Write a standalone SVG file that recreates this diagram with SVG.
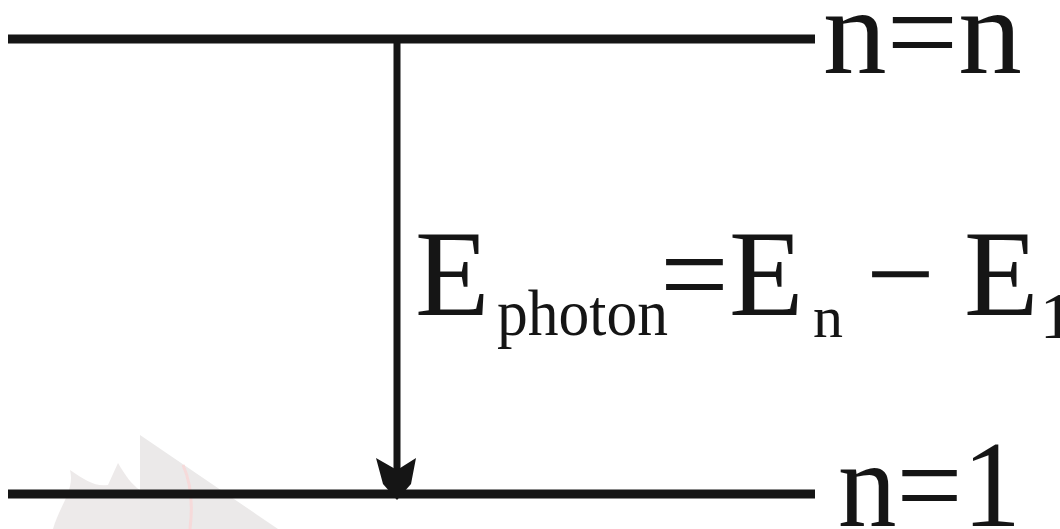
<svg xmlns="http://www.w3.org/2000/svg" width="1060" height="529" viewBox="0 0 1060 529">
<style>
.lvl{stroke:#151515;stroke-width:9;fill:none}
.t{font-family:"Liberation Serif","Times New Roman",serif;fill:#151515}
.big{font-size:122px}
.sub{font-size:66px}
</style>
<rect width="1060" height="529" fill="#ffffff"/>
<g id="watermark" opacity="0.9">
<polygon points="140,435 140,529 278,529" fill="#e9e7e7"/>
<path d="M53,529 C60,505 75,490 70,470 C85,480 95,487 108,485 L118,463 C125,475 132,485 140,490 L140,529 Z" fill="#ece8e8"/>
<path d="M183,465 C192,485 193,505 190,529" stroke="#f6d6d6" stroke-width="3" fill="none"/>
</g>
<g id="level-n">
<line class="lvl" x1="8" y1="39" x2="815" y2="39"/>
<text class="t big" x="823" y="73" textLength="199" lengthAdjust="spacingAndGlyphs">n=n</text>
</g>
<g id="level-1">
<line class="lvl" x1="8" y1="494" x2="815" y2="494"/>
<text class="t big" x="838" y="526" textLength="183" lengthAdjust="spacingAndGlyphs">n=1</text>
</g>
<g id="connectors">
<line x1="397" y1="39" x2="397" y2="470" stroke="#151515" stroke-width="7"/>
<polygon points="376,458 397,470 416,458 411,484 397,500 383,484" fill="#151515"/>
</g>
<g id="equation">
<text class="t big" x="415" y="315">E</text>
<text class="t sub" x="497" y="335" textLength="171" lengthAdjust="spacingAndGlyphs">photon</text>
<text class="t big" x="660" y="315">=</text>
<text class="t big" x="729" y="315">E</text>
<text class="t" x="813" y="337" font-size="60">n</text>
<text class="t big" x="866" y="315">−</text>
<text class="t big" x="964" y="315">E</text>
<text class="t sub" x="1040" y="338">1</text>
</g>
</svg>
